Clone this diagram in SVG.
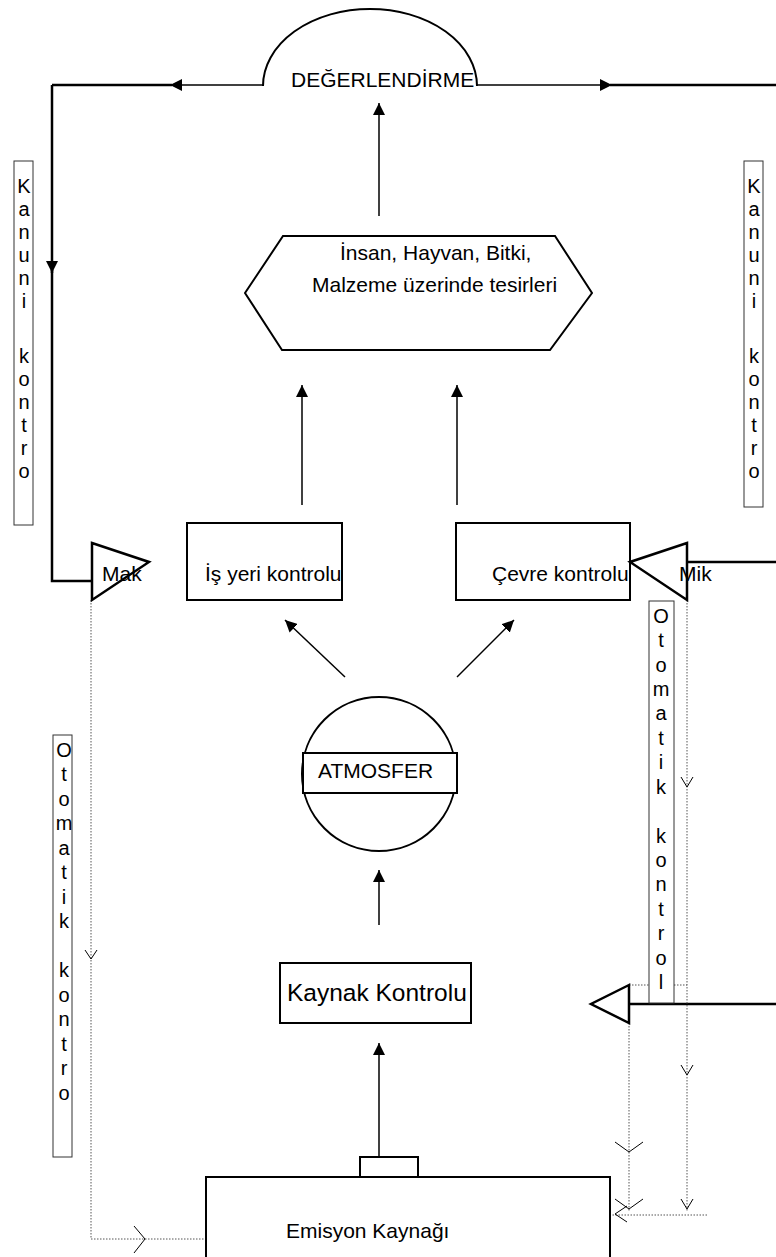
<svg xmlns="http://www.w3.org/2000/svg" width="776" height="1257" viewBox="0 0 776 1257">
<style>
text{font-family:"Liberation Sans",Arial,sans-serif;fill:#000}
.t21{font-size:21px}
.vt{font-size:20px;text-anchor:middle}
.box{fill:#fff;stroke:#000;stroke-width:2}
.thin{fill:none;stroke:#000;stroke-width:1.5}
.thick{fill:none;stroke:#000;stroke-width:2.5}
.lbl{fill:#fff;stroke:#333;stroke-width:1}
.dot{fill:none;stroke:#555;stroke-width:1;stroke-dasharray:1.5 1.5}
.chev{fill:none;stroke:#000;stroke-width:1}
</style>
<defs>
<marker id="ah" markerUnits="userSpaceOnUse" markerWidth="14" markerHeight="12" refX="12" refY="6" orient="auto">
<path d="M0,0 L12,6 L0,12 z" fill="#000"/>
</marker>
</defs>

<g id="connectors">
<path class="thick" d="M52,85 H172"/>
<path class="thin" d="M263,85 H170" marker-end="url(#ah)"/>
<path class="thin" d="M477,85 H612" marker-end="url(#ah)"/>
<path class="thick" d="M610,85 H776"/>
<path class="thick" d="M52,85 V273" marker-end="url(#ah)"/>
<path class="thick" d="M52,270 V581 H92"/>
<path class="thick" d="M776,562 H687"/>
<path class="thick" d="M776,1004 H629"/>
<path class="thin" d="M379,216 V103" marker-end="url(#ah)"/>
<path class="thin" d="M302,505 V385" marker-end="url(#ah)"/>
<path class="thin" d="M457,505 V385" marker-end="url(#ah)"/>
<path class="thin" d="M345,677 L285,620" marker-end="url(#ah)"/>
<path class="thin" d="M457,677 L514,620" marker-end="url(#ah)"/>
<path class="thin" d="M379,925 V870" marker-end="url(#ah)"/>
<path class="thin" d="M379,1157 V1043" marker-end="url(#ah)"/>
<path class="dot" d="M91,600 V1239 H206"/>
<path class="dot" d="M687,600 V1212"/>
<path class="dot" d="M629,1023 V1212"/>
<path class="dot" d="M629,985 H687"/>
<path class="dot" d="M707,1215 H612"/>
<path class="chev" d="M85,950 L91,959 L97,950"/>
<path class="chev" d="M134,1226 L145,1239 L134,1253"/>
<path class="chev" d="M681,777 L687,787 L693,777"/>
<path class="chev" d="M681,1065 L687,1075 L693,1065"/>
<path class="chev" d="M681,1199 L687,1209 L693,1199"/>
<path class="chev" d="M615,1142 L629,1152 L643,1142"/>
<path class="chev" d="M615,1199 L629,1209 L643,1199"/>
<path class="chev" d="M627,1206 L615,1214 L627,1222"/>
</g>

<g id="degerlendirme">
<path class="box" d="M263,86 A107,77 0 0 1 477,86" style="fill:none"/>
<text class="t21" x="291" y="87">DEĞERLENDİRME</text>
</g>

<g id="tesirler">
<polygon class="box" points="245,293 283,236 555,236 592,293 550,350 282,350"/>
<text class="t21" x="340" y="260">İnsan, Hayvan, Bitki,</text>
<text class="t21" x="312" y="292">Malzeme üzerinde tesirleri</text>
</g>

<g id="isyeri">
<rect class="box" x="187" y="523" width="155" height="77"/>
<text class="t21" x="205" y="581">İş yeri kontrolu</text>
</g>

<g id="cevre">
<rect class="box" x="456" y="523" width="174" height="77"/>
<text class="t21" x="492" y="581">Çevre kontrolu</text>
</g>

<g id="mak">
<polygon class="thick" points="92,543 149,562 92,600"/>
<text class="t21" x="102" y="581">Mak</text>
</g>

<g id="mik">
<polygon class="thick" points="687,543 630,562 687,600"/>
<text class="t21" x="679" y="581">Mik</text>
</g>

<g id="atmosfer">
<circle class="box" cx="379" cy="774" r="77"/>
<rect class="box" x="303" y="753" width="154" height="40"/>
<text class="t21" x="318" y="778">ATMOSFER</text>
</g>

<g id="kaynak-kontrolu">
<rect class="box" x="280" y="963" width="191" height="60"/>
<text x="287" y="1001" style="font-size:24.5px">Kaynak Kontrolu</text>
</g>

<g id="kaynak-tri">
<polygon class="thick" points="629,985 591,1004 629,1023"/>
</g>

<g id="emisyon">
<rect class="box" x="360" y="1157" width="58" height="20"/>
<rect class="box" x="206" y="1177" width="404" height="100"/>
<text class="t21" x="286" y="1238">Emisyon Kaynağı</text>
</g>

<g id="kanuni-sol">
<rect class="lbl" x="14" y="161" width="19" height="364"/>
<text class="vt"><tspan x="24" y="193">K</tspan><tspan x="24" y="216">a</tspan><tspan x="24" y="239">n</tspan><tspan x="24" y="262">u</tspan><tspan x="24" y="285">n</tspan><tspan x="24" y="308">i</tspan><tspan x="24" y="363">k</tspan><tspan x="24" y="386">o</tspan><tspan x="24" y="409">n</tspan><tspan x="24" y="432">t</tspan><tspan x="24" y="455">r</tspan><tspan x="24" y="478">o</tspan></text>
</g>

<g id="kanuni-sag">
<rect class="lbl" x="744" y="161" width="19" height="346"/>
<text class="vt"><tspan x="754" y="193">K</tspan><tspan x="754" y="216">a</tspan><tspan x="754" y="239">n</tspan><tspan x="754" y="262">u</tspan><tspan x="754" y="285">n</tspan><tspan x="754" y="308">i</tspan><tspan x="754" y="363">k</tspan><tspan x="754" y="386">o</tspan><tspan x="754" y="409">n</tspan><tspan x="754" y="432">t</tspan><tspan x="754" y="455">r</tspan><tspan x="754" y="478">o</tspan></text>
</g>

<g id="otomatik-sol">
<rect class="lbl" x="53" y="735" width="19" height="422"/>
<text class="vt"><tspan x="64" y="757">O</tspan><tspan x="64" y="781">t</tspan><tspan x="64" y="806">o</tspan><tspan x="64" y="830">m</tspan><tspan x="64" y="855">a</tspan><tspan x="64" y="879">t</tspan><tspan x="64" y="904">i</tspan><tspan x="64" y="928">k</tspan><tspan x="64" y="977">k</tspan><tspan x="64" y="1002">o</tspan><tspan x="64" y="1026">n</tspan><tspan x="64" y="1051">t</tspan><tspan x="64" y="1075">r</tspan><tspan x="64" y="1100">o</tspan></text>
</g>

<g id="otomatik-sag">
<rect class="lbl" x="649" y="601" width="25" height="402"/>
<text class="vt"><tspan x="661" y="623">O</tspan><tspan x="661" y="647">t</tspan><tspan x="661" y="672">o</tspan><tspan x="661" y="696">m</tspan><tspan x="661" y="720">a</tspan><tspan x="661" y="745">t</tspan><tspan x="661" y="769">i</tspan><tspan x="661" y="794">k</tspan><tspan x="661" y="843">k</tspan><tspan x="661" y="867">o</tspan><tspan x="661" y="891">n</tspan><tspan x="661" y="916">t</tspan><tspan x="661" y="940">r</tspan><tspan x="661" y="965">o</tspan><tspan x="661" y="989">l</tspan></text>
</g>
</svg>
